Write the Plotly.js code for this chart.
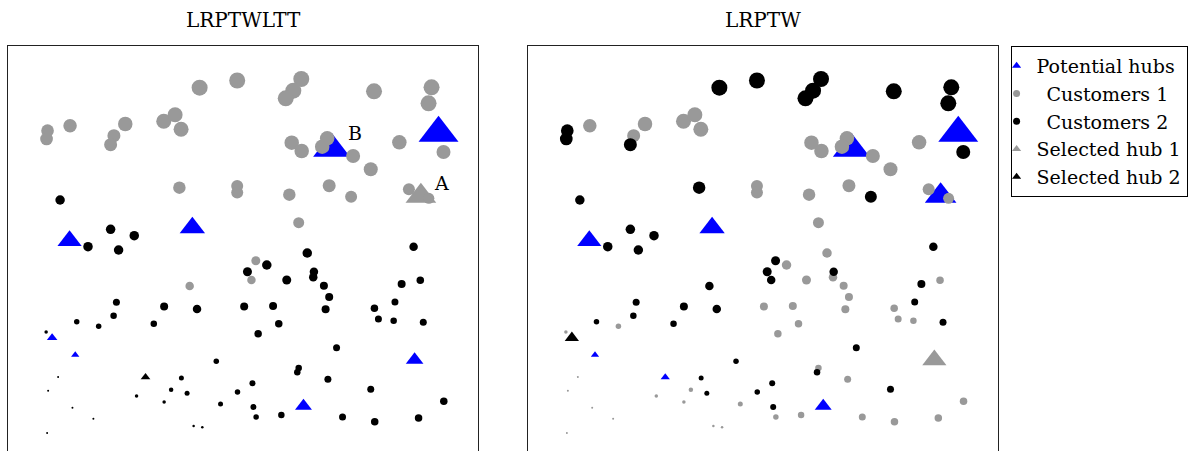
<!DOCTYPE html>
<html>
<head>
<meta charset="utf-8">
<script src="https://cdn.plot.ly/plotly-3.0.1.min.js"></script>
<style>
html,body{margin:0;padding:0;overflow:hidden;background:#fff;}
#chart{width:1188px;height:451px;}
</style>
</head>
<body>
<div id="chart"></div>
<script>
// ---- Panel titles & legend labels ----
const panelTitles = ["LRPTWLTT", "LRPTW"];
const legendLabels = ["Potential hubs", "\u00a0\u2009Customers 1", "\u00a0\u2009Customers 2", "Selected hub 1", "Selected hub 2"];
const hubLabels = ["", "B", "A", "", "", "", "", "", "", ""];

// ---- Customers (same locations in both panels) ----
const custX = [46.7,45.7,69.3,113.3,110,124.7,163.3,174.7,180.7,199.3,237,301.3,293.3,285.7,374.3,432,429,291.7,301.7,327.3,322.3,353.3,399.7,444,371,
  179,237,237,289.3,329.3,351.3,409.3,429.3,59.3,298.7,87.3,110,133.7,118,414,
  307.3,255.7,266.7,247.3,251.3,286.7,314,313.3,324,329.3,402,420.7,395.3,189.3,
  115.8,163.7,196.7,244,273,325.7,374.7,113,76,98,153.3,45.3,278.7,258,378.7,394,423.7,336.7,216,298.7,297.3,181,328,252.3,170.7,186.7,237.3,371,136,163.7,220.3,444.3,253.3,256,281.3,342.7,375,419,
  57.3,47.3,71.7,92.7,46.3,193.3,202];
const custY = [130.7,139,125.7,135.7,144.7,124,121.3,114.7,129.3,87.7,80.5,79,90.7,98.3,91.3,87.3,103.3,142.7,151,138.3,146.7,156,142.3,152,169.3,
  187.7,186,192.5,194.7,185.7,196.7,189.3,198.3,200,222.7,246.7,229.3,235.7,250,246.7,
  253,260.7,265,271.7,280,280,271.7,277.3,285.7,297,284,280.3,302,286,
  302.2,306.5,309,306.5,306,309.2,308.2,315.7,321.7,326.3,323.7,332,323.7,333.7,319,320.7,322.3,347.7,361.3,368,372.3,378,379.3,383.3,389.7,393.3,392,389.3,396,402,404,401.3,407,417,415,417,421.7,418,
  377,390.7,407.7,418.7,433,426,427.3];
const custSize = [12.7,12.7,13.5,13,13,14.5,15,15,15,16,16,16,16,16,16,16,16,14.5,14.5,14.5,14.5,14,14.5,14,14,
  12.5,12,12,12.5,13,12,12,11,9.5,11,9.5,9.5,9.5,9.5,8.5,
  9.5,9,9.5,9,8.5,9,8.5,8.5,8,8,8,7.5,7,8.5,
  7,8,8.5,8,8,8,7.5,6.5,5.5,5.5,6.5,3.5,7.5,7.5,7,6.5,7,7,5.5,6.5,6.5,5,7,6,4.5,5,5.5,7,3.5,3.5,5,7.5,6,5.5,6.5,7,7.5,7.5,
  2,2,2,2,2,2.5,2.5];
// customer group (1 or 2) in each panel
const custGroupLRPTWLTT = [1,1,1,1,1,1,1,1,1,1,1,1,1,1,1,1,1,1,1,1,1,1,1,1,1,
  1,1,1,1,1,1,1,1,2,1,2,2,2,2,2,
  2,1,2,2,1,2,2,2,2,2,2,2,2,1,
  2,2,2,2,2,2,2,2,2,2,2,2,2,2,2,2,2,2,2,2,2,2,2,2,2,2,2,2,2,2,2,2,2,2,2,2,2,2,
  2,2,2,2,2,2,2];
const custGroupLRPTW = [2,2,1,1,2,1,1,1,1,2,2,2,2,2,2,2,2,1,1,1,1,1,1,2,1,
  2,1,1,1,1,2,1,1,2,1,2,2,2,2,2,
  1,2,1,2,2,1,2,1,1,1,2,1,2,2,
  2,2,2,1,1,1,1,2,2,1,2,1,1,1,1,1,2,2,2,1,2,2,1,2,1,2,2,2,1,1,1,1,2,1,1,1,1,1,
  1,1,1,1,1,1,1];

// ---- Hubs ----
const hubX = [439,331.7,421.3,68.8,192,51.3,74.5,145,415,303.5];
const hubY = [133,148.7,196,240.7,227.8,337.8,354.9,377.2,360,406];
const hubSizeLRPTWLTT = [34.6,32,26.6,21,22,9.2,7.2,8.4,15.3,14.7];
const hubSizeLRPTW    = [34.6,32,27.4,21,22,12.4,7.2,8,21,14.7];
// 0 = potential hub, 1 = selected hub 1, 2 = selected hub 2
const hubRoleLRPTWLTT = [0,0,1,0,0,0,0,2,0,0];
const hubRoleLRPTW    = [0,0,0,0,0,2,0,0,1,0];

const BLUE = "#0000ff", GRAY = "#999999", BLACK = "#000000";
const FONT = "DejaVu Serif, serif";

function pick(arr, mask){ return arr.filter((_, i) => mask[i]); }

function panelTraces(xa, ya, roles, sizes, groups){
  const traces = [];
  const hubStyles = [[0, BLUE], [1, GRAY], [2, BLACK]];
  hubStyles.forEach(([r, c]) => {
    const m = roles.map(v => v === r);
    traces.push({type:"scatter", mode:"markers", xaxis:xa, yaxis:ya, showlegend:false, hoverinfo:"skip",
      x: pick(hubX, m), y: pick(hubY, m),
      marker:{symbol:"triangle-up", color:c, opacity:1, size: pick(sizes, m), line:{width:0}}});
  });
  [[1, GRAY], [2, BLACK]].forEach(([g, c]) => {
    const m = groups.map(v => v === g);
    traces.push({type:"scatter", mode:"markers", xaxis:xa, yaxis:ya, showlegend:false, hoverinfo:"skip",
      x: pick(custX, m), y: pick(custY, m),
      marker:{symbol:"circle", color:c, opacity:1, size: pick(custSize, m), line:{width:0}}});
  });
  return traces;
}

let data = [];
data = data.concat(panelTraces("x", "y", hubRoleLRPTWLTT, hubSizeLRPTWLTT, custGroupLRPTWLTT));
data = data.concat(panelTraces("x2", "y2", hubRoleLRPTW, hubSizeLRPTW, custGroupLRPTW));

// legend-only entries
const legendSymbols = ["triangle-up","circle","circle","triangle-up","triangle-up"];
const legendColors = [BLUE, GRAY, BLACK, GRAY, BLACK];
const legendSizes = [8, 7, 7, 8, 8];
legendLabels.forEach((lab, i) => {
  data.push({type:"scatter", mode:"markers", x:[null], y:[null], name:lab,
    showlegend:true, marker:{symbol:legendSymbols[i], color:legendColors[i], opacity:1, size:legendSizes[i]}});
});

const W = 1188;
const axisCommon = {range:[7.5, 478.5], showgrid:false, zeroline:false, showticklabels:false, ticks:"",
  showline:true, mirror:true, linecolor:"#222", linewidth:1, fixedrange:true};
const yCommon = {range:[451, 46], showgrid:false, zeroline:false, showticklabels:false, ticks:"",
  showline:true, mirror:true, linecolor:"#222", linewidth:1, fixedrange:true};

const annotations = [];
const domains = [[8.5/W, 479.5/W], [530/W, 1001/W]];
panelTitles.forEach((t, i) => {
  annotations.push({text:t, xref:"paper", yref:"paper", x:(domains[i][0]+domains[i][1])/2, y:1,
    yshift:26, xanchor:"center", yanchor:"middle", showarrow:false, font:{family:FONT, size:20, color:"#000"}});
});
hubLabels.forEach((t, i) => {
  if (!t) return;
  const s = hubSizeLRPTWLTT[i];
  annotations.push({text:t, xref:"x", yref:"y", x:hubX[i], y:hubY[i], showarrow:false,
    xanchor:"left", yanchor:"middle", xshift: s*0.577 - 4, yshift: s*0.5,
    font:{family:FONT, size:19, color:"#000"}});
});

const layout = {
  width: W, height: 451,
  margin:{l:0, r:0, t:46, b:0, pad:0},
  paper_bgcolor:"#fff", plot_bgcolor:"#fff",
  font:{family:FONT, size:19, color:"#000"},
  xaxis: Object.assign({}, axisCommon, {domain:domains[0], anchor:"y"}),
  yaxis: Object.assign({}, yCommon, {domain:[0,1], anchor:"x"}),
  xaxis2: Object.assign({}, axisCommon, {domain:domains[1], anchor:"y2"}),
  yaxis2: Object.assign({}, yCommon, {domain:[0,1], anchor:"x2"}),
  showlegend:true,
  legend:{x:1014/W, y:1, xanchor:"left", yanchor:"top", bgcolor:"#fff", bordercolor:"#000", borderwidth:1,
    font:{family:FONT, size:19, color:"#000"}, itemwidth:30, indentation:-15, traceorder:"normal"},
  annotations: annotations
};

Plotly.newPlot("chart", data, layout, {staticPlot:true, displayModeBar:false});
</script>
</body>
</html>
